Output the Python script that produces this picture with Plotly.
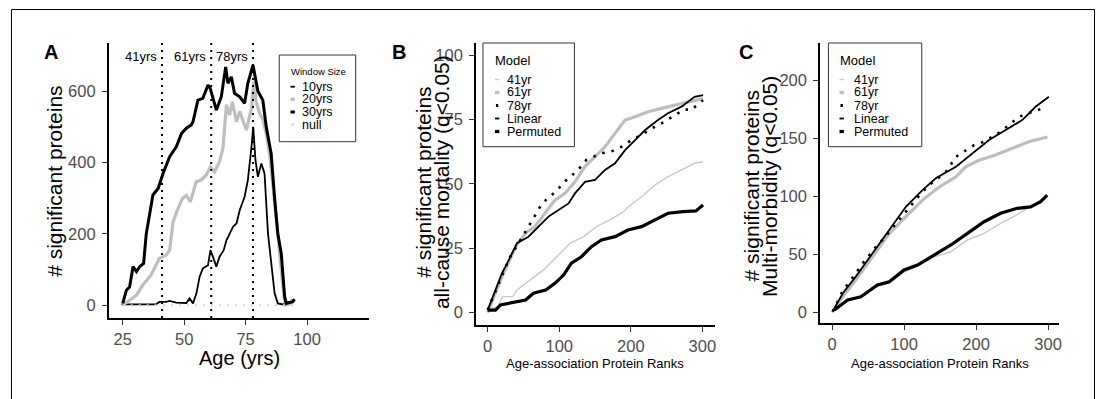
import plotly.graph_objects as go

W, H = 1099, 399
FONT = "Liberation Sans, Arial, sans-serif"

# ---------------- Panel A data ----------------
age_10 = [24.5, 29.2, 34.6, 38.5, 39.9, 42.7, 44.1, 46.8, 50.9, 52.2, 53.6, 55.0, 56.3, 57.6, 59.7, 60.7,
          61.7, 63.1, 64.4, 66.1, 67.2, 68.5, 69.9, 71.3, 72.6, 74.6, 75.9, 77.4, 78.1, 79.0, 80.0, 81.4,
          82.7, 84.1, 85.4, 86.8, 88.1, 90.2, 92.2, 94.0]
val_10 = [2, 2, 0, 2, 9, 9, 12, 7, 6, 19, 5, 33, 80, 103, 112, 154,
          136, 108, 136, 154, 182, 201, 220, 229, 266, 304, 350, 444, 500, 407, 360, 397,
          369, 201, 117, 33, 5, 2, 9, 5]
age_20 = [25.0, 27.8, 30.6, 33.1, 36.5, 38.5, 39.9, 41.4, 42.7, 44.1, 45.5, 47.5, 49.3, 50.9, 52.5, 54.9,
          57.0, 59.0, 60.7, 62.4, 64.4, 65.8, 67.2, 68.5, 69.6, 71.3, 72.6, 75.3, 77.4, 78.3, 79.3, 80.6,
          82.0, 83.4, 84.8, 86.2, 87.5, 89.0, 90.5, 91.3, 93.0, 94.2]
val_20 = [0, 15, 28, 56, 84, 112, 131, 136, 140, 154, 234, 271, 299, 308, 290, 346,
          351, 365, 388, 374, 402, 440, 562, 533, 570, 514, 543, 491, 552, 627, 570, 540,
          520, 480, 420, 330, 240, 150, 30, 0, 5, 15]
age_30 = [25.0, 26.5, 27.8, 29.2, 30.6, 31.9, 33.5, 34.6, 36.0, 37.3, 39.4, 41.4, 44.1, 46.8, 48.9, 50.9,
          52.9, 53.6, 55.6, 57.6, 59.7, 60.6, 63.1, 65.1, 66.9, 67.8, 69.2, 70.5, 72.6, 74.6, 75.9, 78.0,
          80.0, 82.0, 83.4, 85.4, 86.8, 88.1, 89.5, 90.9, 91.5, 94.2, 94.9]
val_30 = [5, 42, 51, 108, 94, 108, 117, 201, 257, 309, 327, 369, 416, 444, 481, 496,
          505, 514, 575, 580, 617, 608, 547, 584, 668, 622, 640, 594, 584, 566, 622, 673,
          600, 575, 500, 425, 300, 201, 145, 23, 5, 10, 17]
age_null = [25, 95]
val_null = [0, 0]
cut_ages = [41, 61, 78]
cut_labels = ["41yrs", "61yrs", "78yrs"]
a_legend_labels = ["10yrs", "20yrs", "30yrs", "null"]

# ---------------- Panel B data (all-cause mortality) ----------------
b41_x = [0, 14, 21, 35, 41, 59.5, 78, 96.5, 115, 134, 152, 171, 190, 196, 215, 234, 252, 271, 289, 301]
b41_y = [1, 2.3, 6.2, 6.2, 8.8, 12.7, 16.6, 21.7, 26.9, 29.5, 33.4, 36, 39.2, 41, 45, 49.6, 52.8, 55.4, 58, 58.6]
b61_x = [0, 10, 20, 30, 40, 52.5, 66, 80, 94, 108, 122, 136, 150, 164, 178, 192, 206, 224, 243, 261, 280, 301]
b61_y = [0, 7, 14, 20, 26, 30.8, 33.4, 38.6, 43.7, 46.3, 50.8, 56.7, 60.5, 64.4, 69.6, 74.8, 76.1, 78, 79.3, 80.6, 81.9, 83.2]
b78_x = [0, 15, 30, 52, 76, 95, 110, 125, 138, 159, 172, 187, 201, 215, 229, 243, 261, 275, 284, 301]
b78_y = [1, 11, 21, 31, 42.4, 47, 51.5, 55, 59.3, 61.9, 62.5, 64.4, 67, 69, 71.5, 73.5, 76.7, 79, 78.6, 82.5]
blin_x = [0, 10.7, 20, 27, 34, 41, 57, 71, 85, 99, 113, 122, 136, 150, 164, 178, 192, 206, 220, 238, 252, 271, 289, 301]
blin_y = [1, 8.8, 15.3, 19, 23, 27, 29.5, 33.4, 37.3, 39.9, 42.4, 46.3, 50.8, 51.5, 55.4, 58, 63.1, 67, 70.9, 74.8, 77.4, 80, 83.8, 84.5]
bperm_x = [0, 11, 18, 41, 53, 64, 81, 94, 106, 117, 131, 145, 159, 178, 196, 215, 234, 252, 273, 291, 301]
bperm_y = [1, 1, 3, 4.3, 4.9, 7.5, 8.8, 11.4, 14.6, 19.2, 21.7, 25.6, 28.2, 29.5, 32.1, 33.4, 36, 38.6, 39.2, 39.5, 41.8]

# ---------------- Panel C data (multi-morbidity) ----------------
c41_x = [3.3, 21.7, 40, 63, 79.5, 100, 118.7, 141.8, 165, 188, 211, 234, 252, 271, 289.5, 298.7]
c41_y = [2.3, 10.5, 13, 22.5, 25.5, 35, 40, 48, 52.4, 62.5, 68.2, 76.8, 82.5, 89.7, 95, 100]
c61_x = [0, 15, 33, 56, 79.5, 102.5, 125.6, 148.6, 172, 185.6, 204, 227, 250, 273, 299]
c61_y = [0, 14, 28, 48, 68, 82.5, 96.8, 108, 116.8, 125.4, 131, 135.5, 141, 147, 151]
c78_x = [1, 15, 33, 42.5, 52, 61, 70, 79.5, 88.6, 98, 107, 116, 125.6, 135, 146, 158, 172, 185.6, 197, 211, 234, 259.5, 280, 292]
c78_y = [1, 19, 33.8, 42.4, 49.6, 56.7, 62.5, 69.6, 76.8, 84, 91, 96.8, 104, 109.7, 115.5, 121, 134, 139.8, 144, 147, 155.5, 168.4, 172.7, 175.6]
clin_x = [1, 15, 33, 56, 79.5, 102.5, 125.6, 144, 172, 195, 218, 241, 264, 282.5, 301]
clin_y = [1, 16.7, 31, 51, 71, 91, 105.4, 115.5, 125.4, 137, 148.4, 157, 165.5, 177, 185.6]
cperm_x = [3.3, 21.7, 40, 63, 79.5, 100, 118.7, 141.8, 165, 188, 211, 234, 257, 275.6, 289.5, 298.7]
cperm_y = [2.3, 10.9, 13.7, 23.8, 26.6, 36.7, 41, 49.6, 58.2, 68.2, 78.2, 85.4, 89.7, 91, 95.4, 101]

model_labels = ["41yr", "61yr", "78yr", "Linear", "Permuted"]

# ---------------- styles ----------------
LGREY = "#C9C9C9"
GREY = "#BEBEBE"
NULLC = "#D3D3D3"
DOT78 = "2.5px,7px"
sty_A = [dict(color="black", width=1.8), dict(color=GREY, width=3.2), dict(color="black", width=3.0),
         dict(color=NULLC, width=2, dash="2px,6px")]
sty_M = [dict(color=LGREY, width=1.4), dict(color=GREY, width=3.2), dict(color="black", width=2.6, dash=DOT78),
         dict(color="black", width=1.8), dict(color="black", width=3.2)]

fig = go.Figure()

def add(x, y, line, xa, ya, name):
    fig.add_trace(go.Scatter(x=x, y=y, mode="lines", line=line, xaxis=xa, yaxis=ya,
                             showlegend=False, name=name, hoverinfo="skip"))

for (x, y), st, nm in zip([(age_10, val_10), (age_20, val_20), (age_30, val_30), (age_null, val_null)],
                          sty_A, a_legend_labels):
    add(x, y, st, "x", "y", nm)
for (x, y), st, nm in zip([(b41_x, b41_y), (b61_x, b61_y), (b78_x, b78_y), (blin_x, blin_y), (bperm_x, bperm_y)],
                          sty_M, model_labels):
    add(x, y, st, "x2", "y2", nm)
for (x, y), st, nm in zip([(c41_x, c41_y), (c61_x, c61_y), (c78_x, c78_y), (clin_x, clin_y), (cperm_x, cperm_y)],
                          sty_M, model_labels):
    add(x, y, st, "x3", "y3", nm)

def px(v):
    return v / W

def py(v):
    return 1 - v / H

axis_common = dict(showline=True, linecolor="black", linewidth=1.6, ticks="outside", ticklen=5,
                   tickwidth=1.1, tickcolor="#333333", showgrid=False, zeroline=False,
                   tickfont=dict(family=FONT, size=16.5, color="#4D4D4D"))
xax = dict(axis_common)
yax = dict(axis_common, ticklabelstandoff=3)

fig.update_layout(
    width=W, height=H, margin=dict(l=0, r=0, t=0, b=0),
    paper_bgcolor="white", plot_bgcolor="white", showlegend=False,
    font=dict(family=FONT, color="black"),
    xaxis=dict(domain=[px(109), px(370)], range=[19.3, 125.2], tickvals=[25, 50, 75, 100], anchor="y", **xax),
    yaxis=dict(domain=[py(318), py(43)], range=[-36, 735], tickvals=[0, 200, 400, 600], anchor="x", **yax),
    xaxis2=dict(domain=[px(477.3), px(716.7)], range=[-16.3, 317.3], tickvals=[0, 100, 200, 300], anchor="y2", **xax),
    yaxis2=dict(domain=[py(325), py(43)], range=[-4.8, 104.7], tickvals=[0, 25, 50, 75, 100], anchor="x2", **yax),
    xaxis3=dict(domain=[px(822.3), px(1061.7)], range=[-16.6, 314.8], tickvals=[0, 100, 200, 300], anchor="y3", **xax),
    yaxis3=dict(domain=[py(323.3), py(43)], range=[-9.1, 231.8], tickvals=[0, 50, 100, 150, 200], anchor="x3", **yax),
)

shapes = []
ann = []

# outer frame (left, top, right)
for x0, y0, x1, y1 in [(11.5, 9.5, 11.5, 400), (11.5, 9.5, 1097.5, 9.5), (1097.5, 9.5, 1097.5, 400)]:
    shapes.append(dict(type="line", xref="paper", yref="paper", x0=px(x0), y0=py(y0), x1=px(x1), y1=py(y1),
                       line=dict(color="black", width=1)))

# vertical cut lines in panel A and their labels
for a, lab in zip(cut_ages, cut_labels):
    shapes.append(dict(type="line", xref="x", yref="y domain", x0=a, x1=a, y0=0, y1=1,
                       line=dict(color="black", width=2, dash="2px,5px")))
    ann.append(dict(x=a, y=696, xref="x", yref="y", text=lab, showarrow=False, xanchor="right",
                    yanchor="middle", xshift=-3, font=dict(family=FONT, size=13, color="black")))

def text(x, y, s, size, **kw):
    d = dict(x=px(x), y=py(y), xref="paper", yref="paper", text=s, showarrow=False,
             font=dict(family=FONT, size=size, color=kw.pop("color", "black")))
    d.setdefault("xanchor", "center")
    d.setdefault("yanchor", "middle")
    d.update(kw)
    ann.append(d)

# panel letters
text(51.5, 52, "<b>A</b>", 20)
text(400, 52, "<b>B</b>", 20)
text(748, 52, "<b>C</b>", 20)

# axis titles
text(55, 181, "# significant proteins", 21, textangle=-90)
text(240, 357.5, "Age (yrs)", 20)
text(424, 182, "# significant proteins", 21, textangle=-90)
text(442.3, 182, "all-cause mortality (q<0.05)", 21, textangle=-90)
text(597, 363, "Age-association Protein Ranks", 13)
text(753.5, 186, "# significant proteins", 21, textangle=-90)
text(771, 186, "Multi-morbidity (q<0.05)", 21, textangle=-90)
text(943, 363, "Age-association Protein Ranks", 13)

# manual legends
def legend(box, title, title_pos, title_size, key_x, lab_x, ys, labels, styles, lab_size):
    x0, y0, x1, y1 = box
    shapes.append(dict(type="rect", xref="paper", yref="paper", x0=px(x0), y0=py(y0), x1=px(x1), y1=py(y1),
                       line=dict(color="#333333", width=1), fillcolor="white", layer="above"))
    text(title_pos[0], title_pos[1], title, title_size, xanchor="left")
    for yy, lab, st in zip(ys, labels, styles):
        w = min(st["width"], 3.2)
        if st.get("dash"):
            shapes.append(dict(type="line", xref="paper", yref="paper", x0=px(key_x - 1.2), x1=px(key_x + 1.2),
                               y0=py(yy), y1=py(yy), line=dict(color=st["color"], width=w + 0.4), layer="above"))
        else:
            shapes.append(dict(type="line", xref="paper", yref="paper", x0=px(key_x - 2.2), x1=px(key_x + 2.2),
                               y0=py(yy), y1=py(yy), line=dict(color=st["color"], width=w), layer="above"))
        text(lab_x, yy, lab, lab_size, xanchor="left")

legend((280, 55, 356.7, 141.7), "Window Size", (289.5, 71), 9.5, 293.5, 300.5,
       [86.7, 99.3, 112, 124.7], a_legend_labels, sty_A, 12.5)
legend((484.3, 43, 576, 146.7), "Model", (494.5, 61), 13, 498.5, 506, [79.5, 92.5, 105.5, 118.5, 131.5],
       model_labels, sty_M, 12.5)
legend((830.7, 43, 924.3, 146.7), "Model", (840, 61), 13, 844, 854.5, [79.5, 92.5, 105.5, 118.5, 131.5],
       model_labels, sty_M, 12.5)

fig.update_layout(shapes=shapes, annotations=ann)
fig.write_html("out.html")
